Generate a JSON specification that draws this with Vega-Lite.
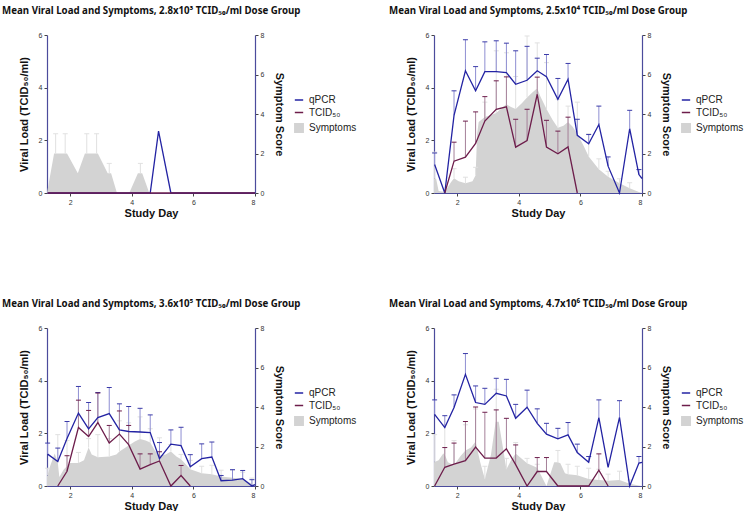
{
"$schema": "https://vega.github.io/schema/vega-lite/v6.json",
"padding": {"left": 2, "top": 6, "right": 0, "bottom": 0},
"background": "white",
"data": {"values": [
{"p":1,"s":"qPCR","d":1.27,"v":0},{"p":1,"s":"qPCR","d":4.6,"v":0},{"p":1,"s":"qPCR","d":4.87,"v":2.35},{"p":1,"s":"qPCR","d":5.27,"v":0},{"p":1,"s":"qPCR","d":8.0,"v":0},
{"p":1,"s":"TCID₅₀","d":1.27,"v":0},{"p":1,"s":"TCID₅₀","d":8.0,"v":0},
{"p":1,"s":"Symptoms","d":1.25,"v":0},{"p":1,"s":"Symptoms","d":1.48,"v":2},{"p":1,"s":"Symptoms","d":1.53,"v":2,"e":3},{"p":1,"s":"Symptoms","d":1.84,"v":2,"e":3},{"p":1,"s":"Symptoms","d":1.9,"v":2},{"p":1,"s":"Symptoms","d":2.25,"v":1},{"p":1,"s":"Symptoms","d":2.48,"v":2},{"p":1,"s":"Symptoms","d":2.54,"v":2,"e":3},{"p":1,"s":"Symptoms","d":2.86,"v":2,"e":3},{"p":1,"s":"Symptoms","d":2.9,"v":2},{"p":1,"s":"Symptoms","d":3.22,"v":1},{"p":1,"s":"Symptoms","d":3.27,"v":1,"e":1.5},{"p":1,"s":"Symptoms","d":3.33,"v":1},{"p":1,"s":"Symptoms","d":3.52,"v":0},{"p":1,"s":"Symptoms","d":3.92,"v":0},{"p":1,"s":"Symptoms","d":4.2,"v":1},{"p":1,"s":"Symptoms","d":4.28,"v":1,"e":1.5},{"p":1,"s":"Symptoms","d":4.34,"v":1},{"p":1,"s":"Symptoms","d":4.57,"v":0},{"p":1,"s":"Symptoms","d":8.0,"v":0},

{"p":2,"s":"qPCR","d":1.27,"v":1.08,"e":1.52},{"p":2,"s":"qPCR","d":1.6,"v":0},{"p":2,"s":"qPCR","d":1.9,"v":2.95,"e":3.88},{"p":2,"s":"qPCR","d":2.27,"v":4.64,"e":5.82},{"p":2,"s":"qPCR","d":2.6,"v":3.88,"e":4.8},{"p":2,"s":"qPCR","d":2.9,"v":4.61,"e":5.74},{"p":2,"s":"qPCR","d":3.27,"v":4.61,"e":5.78},{"p":2,"s":"qPCR","d":3.6,"v":4.57,"e":5.69},{"p":2,"s":"qPCR","d":3.9,"v":4.13,"e":5.4},{"p":2,"s":"qPCR","d":4.27,"v":4.28,"e":5.57},{"p":2,"s":"qPCR","d":4.6,"v":4.64,"e":5.12},{"p":2,"s":"qPCR","d":4.9,"v":4.42,"e":5.26},{"p":2,"s":"qPCR","d":5.27,"v":3.56,"e":4.35},{"p":2,"s":"qPCR","d":5.6,"v":4.32,"e":4.92},{"p":2,"s":"qPCR","d":5.9,"v":2.19,"e":2.8},{"p":2,"s":"qPCR","d":6.27,"v":1.87,"e":2.22},{"p":2,"s":"qPCR","d":6.6,"v":2.6,"e":3.3},{"p":2,"s":"qPCR","d":6.9,"v":1.02,"e":1.37},{"p":2,"s":"qPCR","d":7.27,"v":0},{"p":2,"s":"qPCR","d":7.6,"v":2.44,"e":3.14},{"p":2,"s":"qPCR","d":7.9,"v":0.7,"e":0.89},{"p":2,"s":"qPCR","d":8.0,"v":0.55},
{"p":2,"s":"TCID₅₀","d":1.6,"v":0},{"p":2,"s":"TCID₅₀","d":1.9,"v":1.21,"e":1.93},{"p":2,"s":"TCID₅₀","d":2.27,"v":1.36,"e":2.73},{"p":2,"s":"TCID₅₀","d":2.6,"v":1.88,"e":3.08},{"p":2,"s":"TCID₅₀","d":2.9,"v":2.73,"e":3.66},{"p":2,"s":"TCID₅₀","d":3.27,"v":3.18,"e":4.26},{"p":2,"s":"TCID₅₀","d":3.6,"v":3.27,"e":4.41},{"p":2,"s":"TCID₅₀","d":3.9,"v":1.74,"e":2.8},{"p":2,"s":"TCID₅₀","d":4.27,"v":1.99,"e":3.18},{"p":2,"s":"TCID₅₀","d":4.6,"v":3.75,"e":4.4},{"p":2,"s":"TCID₅₀","d":4.9,"v":1.74,"e":2.76},{"p":2,"s":"TCID₅₀","d":5.27,"v":1.49,"e":2.35},{"p":2,"s":"TCID₅₀","d":5.6,"v":1.75,"e":2.88},{"p":2,"s":"TCID₅₀","d":5.9,"v":0},
{"p":2,"s":"Symptoms","d":1.25,"v":0.72},{"p":2,"s":"Symptoms","d":1.27,"v":0.72,"e":2.07},{"p":2,"s":"Symptoms","d":1.32,"v":0.72},{"p":2,"s":"Symptoms","d":1.4,"v":0.1},{"p":2,"s":"Symptoms","d":1.6,"v":0.05},{"p":2,"s":"Symptoms","d":1.8,"v":0.55},{"p":2,"s":"Symptoms","d":1.9,"v":0.75,"e":1.23},{"p":2,"s":"Symptoms","d":2.05,"v":0.6},{"p":2,"s":"Symptoms","d":2.27,"v":0.5,"e":0.8},{"p":2,"s":"Symptoms","d":2.5,"v":0.6},{"p":2,"s":"Symptoms","d":2.6,"v":0.9,"e":1.3},{"p":2,"s":"Symptoms","d":2.65,"v":3.0},{"p":2,"s":"Symptoms","d":2.7,"v":3.6},{"p":2,"s":"Symptoms","d":2.9,"v":3.85,"e":4.6},{"p":2,"s":"Symptoms","d":3.1,"v":3.95},{"p":2,"s":"Symptoms","d":3.27,"v":4.05,"e":7.2},{"p":2,"s":"Symptoms","d":3.45,"v":4.3},{"p":2,"s":"Symptoms","d":3.6,"v":4.5,"e":7.1},{"p":2,"s":"Symptoms","d":3.75,"v":4.35},{"p":2,"s":"Symptoms","d":3.9,"v":4.25,"e":5.9},{"p":2,"s":"Symptoms","d":4.1,"v":4.55},{"p":2,"s":"Symptoms","d":4.27,"v":4.84,"e":7.95},{"p":2,"s":"Symptoms","d":4.45,"v":5.1},{"p":2,"s":"Symptoms","d":4.6,"v":5.3,"e":7.6},{"p":2,"s":"Symptoms","d":4.7,"v":4.9},{"p":2,"s":"Symptoms","d":4.9,"v":4.25,"e":6.6},{"p":2,"s":"Symptoms","d":5.1,"v":3.7},{"p":2,"s":"Symptoms","d":5.27,"v":3.3,"e":4.75},{"p":2,"s":"Symptoms","d":5.45,"v":3.4},{"p":2,"s":"Symptoms","d":5.6,"v":3.6,"e":4.4},{"p":2,"s":"Symptoms","d":5.75,"v":3.35},{"p":2,"s":"Symptoms","d":5.9,"v":3.0,"e":4.6},{"p":2,"s":"Symptoms","d":6.1,"v":2.4},{"p":2,"s":"Symptoms","d":6.27,"v":1.85,"e":3.0},{"p":2,"s":"Symptoms","d":6.45,"v":1.5},{"p":2,"s":"Symptoms","d":6.6,"v":1.2,"e":1.73},{"p":2,"s":"Symptoms","d":6.9,"v":0.82,"e":1.1},{"p":2,"s":"Symptoms","d":7.1,"v":0.65},{"p":2,"s":"Symptoms","d":7.27,"v":0.5,"e":0.72},{"p":2,"s":"Symptoms","d":7.6,"v":0.24,"e":0.52},{"p":2,"s":"Symptoms","d":7.9,"v":0.05},{"p":2,"s":"Symptoms","d":8.0,"v":0},

{"p":3,"s":"qPCR","d":1.27,"v":1.21,"e":1.63},{"p":3,"s":"qPCR","d":1.6,"v":0.93,"e":1.44},{"p":3,"s":"qPCR","d":1.9,"v":1.8,"e":2.45},{"p":3,"s":"qPCR","d":2.27,"v":2.77,"e":3.78},{"p":3,"s":"qPCR","d":2.6,"v":2.17,"e":3.17},{"p":3,"s":"qPCR","d":2.9,"v":2.6,"e":3.55},{"p":3,"s":"qPCR","d":3.27,"v":2.75,"e":3.74},{"p":3,"s":"qPCR","d":3.6,"v":2.13,"e":3.12},{"p":3,"s":"qPCR","d":3.9,"v":2.07,"e":3.02},{"p":3,"s":"qPCR","d":4.27,"v":2.05,"e":2.95},{"p":3,"s":"qPCR","d":4.6,"v":2.03,"e":2.7},{"p":3,"s":"qPCR","d":4.9,"v":1.04,"e":1.65},{"p":3,"s":"qPCR","d":5.27,"v":1.59,"e":2.13},{"p":3,"s":"qPCR","d":5.6,"v":1.53,"e":2.23},{"p":3,"s":"qPCR","d":5.9,"v":0.73,"e":1.19},{"p":3,"s":"qPCR","d":6.27,"v":1.04,"e":1.6},{"p":3,"s":"qPCR","d":6.6,"v":1.1,"e":1.67},{"p":3,"s":"qPCR","d":6.9,"v":0.2,"e":0.4},{"p":3,"s":"qPCR","d":7.27,"v":0.22,"e":0.62},{"p":3,"s":"qPCR","d":7.6,"v":0.28,"e":0.59},{"p":3,"s":"qPCR","d":7.9,"v":0,"e":0.24},{"p":3,"s":"qPCR","d":8.0,"v":0.05},
{"p":3,"s":"TCID₅₀","d":1.6,"v":0},{"p":3,"s":"TCID₅₀","d":1.9,"v":0.56,"e":1.15},{"p":3,"s":"TCID₅₀","d":2.27,"v":2.22,"e":3.26},{"p":3,"s":"TCID₅₀","d":2.6,"v":1.88,"e":2.87},{"p":3,"s":"TCID₅₀","d":2.9,"v":2.41,"e":3.53},{"p":3,"s":"TCID₅₀","d":3.27,"v":1.63,"e":2.3},{"p":3,"s":"TCID₅₀","d":3.6,"v":1.97,"e":2.85},{"p":3,"s":"TCID₅₀","d":3.9,"v":1.57,"e":2.3},{"p":3,"s":"TCID₅₀","d":4.27,"v":0.64,"e":1.22},{"p":3,"s":"TCID₅₀","d":4.6,"v":0.81,"e":1.22},{"p":3,"s":"TCID₅₀","d":4.9,"v":0.95,"e":1.3},{"p":3,"s":"TCID₅₀","d":5.27,"v":0},{"p":3,"s":"TCID₅₀","d":5.6,"v":0.4,"e":0.78},{"p":3,"s":"TCID₅₀","d":5.9,"v":0},
{"p":3,"s":"Symptoms","d":1.25,"v":0.5},{"p":3,"s":"Symptoms","d":1.27,"v":0.55,"e":0.9},{"p":3,"s":"Symptoms","d":1.35,"v":1.0},{"p":3,"s":"Symptoms","d":1.5,"v":1.65},{"p":3,"s":"Symptoms","d":1.6,"v":1.2,"e":2.6},{"p":3,"s":"Symptoms","d":1.65,"v":0.45},{"p":3,"s":"Symptoms","d":1.8,"v":0.85},{"p":3,"s":"Symptoms","d":1.9,"v":1.0,"e":2.3},{"p":3,"s":"Symptoms","d":2.0,"v":1.16},{"p":3,"s":"Symptoms","d":2.27,"v":1.16,"e":1.7},{"p":3,"s":"Symptoms","d":2.45,"v":1.3},{"p":3,"s":"Symptoms","d":2.6,"v":1.95,"e":2.4},{"p":3,"s":"Symptoms","d":2.7,"v":1.6},{"p":3,"s":"Symptoms","d":2.9,"v":1.45,"e":2.6},{"p":3,"s":"Symptoms","d":3.27,"v":1.5,"e":2.4},{"p":3,"s":"Symptoms","d":3.5,"v":1.6},{"p":3,"s":"Symptoms","d":3.6,"v":1.75,"e":3.3},{"p":3,"s":"Symptoms","d":3.75,"v":1.9},{"p":3,"s":"Symptoms","d":3.9,"v":2.05,"e":3.2},{"p":3,"s":"Symptoms","d":4.1,"v":2.25},{"p":3,"s":"Symptoms","d":4.27,"v":2.38,"e":3.5},{"p":3,"s":"Symptoms","d":4.45,"v":2.3},{"p":3,"s":"Symptoms","d":4.6,"v":2.2,"e":2.9},{"p":3,"s":"Symptoms","d":4.75,"v":1.8},{"p":3,"s":"Symptoms","d":4.9,"v":1.55,"e":2.44},{"p":3,"s":"Symptoms","d":5.1,"v":1.6},{"p":3,"s":"Symptoms","d":5.27,"v":1.75,"e":2.1},{"p":3,"s":"Symptoms","d":5.45,"v":1.5},{"p":3,"s":"Symptoms","d":5.6,"v":1.35,"e":1.6},{"p":3,"s":"Symptoms","d":5.9,"v":0.85,"e":1.3},{"p":3,"s":"Symptoms","d":6.27,"v":0.65,"e":1.0},{"p":3,"s":"Symptoms","d":6.6,"v":0.6,"e":1.05},{"p":3,"s":"Symptoms","d":6.9,"v":0.48,"e":0.8},{"p":3,"s":"Symptoms","d":7.27,"v":0.42,"e":0.8},{"p":3,"s":"Symptoms","d":7.6,"v":0.36,"e":0.7},{"p":3,"s":"Symptoms","d":7.9,"v":0.12,"e":0.4},{"p":3,"s":"Symptoms","d":8.0,"v":0.05},

{"p":4,"s":"qPCR","d":1.27,"v":2.72,"e":3.27},{"p":4,"s":"qPCR","d":1.6,"v":2.22,"e":2.67},{"p":4,"s":"qPCR","d":1.9,"v":2.98,"e":3.46},{"p":4,"s":"qPCR","d":2.27,"v":4.24,"e":5.03},{"p":4,"s":"qPCR","d":2.6,"v":3.17,"e":3.8},{"p":4,"s":"qPCR","d":2.9,"v":3.1,"e":3.71},{"p":4,"s":"qPCR","d":3.27,"v":3.52,"e":4.09},{"p":4,"s":"qPCR","d":3.6,"v":3.42,"e":4.05},{"p":4,"s":"qPCR","d":3.9,"v":2.57,"e":3.1},{"p":4,"s":"qPCR","d":4.27,"v":2.99,"e":3.64},{"p":4,"s":"qPCR","d":4.6,"v":2.38,"e":2.93},{"p":4,"s":"qPCR","d":4.9,"v":1.97,"e":2.38},{"p":4,"s":"qPCR","d":5.27,"v":1.79,"e":2.19},{"p":4,"s":"qPCR","d":5.6,"v":1.94,"e":2.41},{"p":4,"s":"qPCR","d":5.9,"v":1.27,"e":1.59},{"p":4,"s":"qPCR","d":6.27,"v":0.9,"e":1.12},{"p":4,"s":"qPCR","d":6.6,"v":2.6,"e":3.27},{"p":4,"s":"qPCR","d":6.9,"v":0.71},{"p":4,"s":"qPCR","d":7.27,"v":2.61,"e":3.24},{"p":4,"s":"qPCR","d":7.6,"v":0},{"p":4,"s":"qPCR","d":7.9,"v":0.87,"e":1.12},{"p":4,"s":"qPCR","d":8.0,"v":0.9},
{"p":4,"s":"TCID₅₀","d":1.27,"v":0},{"p":4,"s":"TCID₅₀","d":1.6,"v":0.71,"e":1.46},{"p":4,"s":"TCID₅₀","d":1.9,"v":0.83,"e":1.63},{"p":4,"s":"TCID₅₀","d":2.27,"v":0.96,"e":2.45},{"p":4,"s":"TCID₅₀","d":2.6,"v":1.48,"e":3.0},{"p":4,"s":"TCID₅₀","d":2.9,"v":1.06,"e":2.8},{"p":4,"s":"TCID₅₀","d":3.27,"v":1.06,"e":2.89},{"p":4,"s":"TCID₅₀","d":3.6,"v":1.41,"e":2.57},{"p":4,"s":"TCID₅₀","d":3.9,"v":0.81,"e":1.56},{"p":4,"s":"TCID₅₀","d":4.27,"v":0},{"p":4,"s":"TCID₅₀","d":4.6,"v":0.55,"e":1.08},{"p":4,"s":"TCID₅₀","d":4.9,"v":0.55,"e":1.08},{"p":4,"s":"TCID₅₀","d":5.27,"v":0},{"p":4,"s":"TCID₅₀","d":5.6,"v":0},{"p":4,"s":"TCID₅₀","d":5.9,"v":0},{"p":4,"s":"TCID₅₀","d":6.27,"v":0},{"p":4,"s":"TCID₅₀","d":6.6,"v":0.6,"e":1.22},{"p":4,"s":"TCID₅₀","d":6.9,"v":0},
{"p":4,"s":"Symptoms","d":1.25,"v":1.2},{"p":4,"s":"Symptoms","d":1.27,"v":1.22,"e":2.6},{"p":4,"s":"Symptoms","d":1.4,"v":1.3},{"p":4,"s":"Symptoms","d":1.55,"v":1.65},{"p":4,"s":"Symptoms","d":1.6,"v":1.6,"e":3.1},{"p":4,"s":"Symptoms","d":1.7,"v":1.2},{"p":4,"s":"Symptoms","d":1.9,"v":1.05,"e":2.3},{"p":4,"s":"Symptoms","d":2.1,"v":1.5},{"p":4,"s":"Symptoms","d":2.27,"v":1.8,"e":3.1},{"p":4,"s":"Symptoms","d":2.45,"v":1.95},{"p":4,"s":"Symptoms","d":2.6,"v":2.25,"e":3.9},{"p":4,"s":"Symptoms","d":2.75,"v":1.2},{"p":4,"s":"Symptoms","d":2.9,"v":0.35,"e":1.0},{"p":4,"s":"Symptoms","d":3.1,"v":1.6},{"p":4,"s":"Symptoms","d":3.25,"v":3.25},{"p":4,"s":"Symptoms","d":3.27,"v":3.25,"e":4.9},{"p":4,"s":"Symptoms","d":3.35,"v":3.25},{"p":4,"s":"Symptoms","d":3.6,"v":0.85,"e":1.4},{"p":4,"s":"Symptoms","d":3.75,"v":1.3},{"p":4,"s":"Symptoms","d":3.9,"v":1.65,"e":2.2},{"p":4,"s":"Symptoms","d":4.27,"v":1.15,"e":1.4},{"p":4,"s":"Symptoms","d":4.6,"v":0.92,"e":1.1},{"p":4,"s":"Symptoms","d":4.9,"v":0},{"p":4,"s":"Symptoms","d":5.15,"v":1.2},{"p":4,"s":"Symptoms","d":5.27,"v":1.2,"e":1.8},{"p":4,"s":"Symptoms","d":5.35,"v":1.15},{"p":4,"s":"Symptoms","d":5.5,"v":0.65},{"p":4,"s":"Symptoms","d":5.6,"v":0.6,"e":1.1},{"p":4,"s":"Symptoms","d":5.9,"v":0.55,"e":1.0},{"p":4,"s":"Symptoms","d":6.27,"v":0.35,"e":0.9},{"p":4,"s":"Symptoms","d":6.6,"v":0.3,"e":0.85},{"p":4,"s":"Symptoms","d":6.9,"v":0.27,"e":0.6},{"p":4,"s":"Symptoms","d":7.27,"v":0.3,"e":0.75},{"p":4,"s":"Symptoms","d":7.6,"v":0.12,"e":0.3},{"p":4,"s":"Symptoms","d":7.9,"v":0.03},{"p":4,"s":"Symptoms","d":8.0,"v":0}
]},
"columns": 2,
"spacing": {"row": 81, "column": 32},
"resolve": {"scale": {"color": "independent"}},
"concat": [
{
 "width": 208, "height": 158,
 "title": "Mean Viral Load and Symptoms, 2.8x10³ TCID₅₀/ml Dose Group",
 "transform": [{"filter": "datum.p == 1"}],
 "encoding": {"x": {"field": "d", "type": "quantitative", "scale": {"domain": [1.25, 8], "nice": false, "zero": false}, "axis": {"values": [2,4,6,8], "title": "Study Day", "titlePadding": 2}}},
 "layer": [
  {"transform": [{"filter": "datum.s == 'Symptoms'"}],
   "layer": [
    {"mark": {"type": "area", "opacity": 1}, "encoding": {
      "y": {"field": "v", "type": "quantitative", "scale": {"domain": [0, 8], "nice": false}, "axis": {"orient": "right", "values": [0,2,4,6,8], "title": "Symptom Score", "titlePadding": 10}},
      "color": {"field": "s", "type": "nominal", "scale": {"domain": ["qPCR","TCID₅₀","Symptoms"], "range": ["#2323a3","#6d1d4b","#d3d3d3"]}, "legend": {"orient": "none", "legendX": 247, "legendY": 60, "title": null, "labelFontSize": 10, "labelColor": "#222", "symbolSize": 70, "symbolStrokeWidth": 1.5, "rowPadding": 2.5, "labelOffset": 5, "encode": {"symbols": {"update": {"shape": {"signal": "datum.value === 'Symptoms' ? 'square' : 'stroke'"}, "fill": {"signal": "datum.value === 'Symptoms' ? '#d3d3d3' : 'transparent'"}, "stroke": {"signal": "datum.value === 'Symptoms' ? 'transparent' : (datum.value === 'qPCR' ? '#2323a3' : '#6d1d4b')"}}}}}}}},
    {"transform": [{"filter": "isValid(datum.e)"}], "mark": {"type": "rule", "color": "#e0e0e0", "strokeWidth": 1}, "encoding": {
      "y": {"field": "v", "type": "quantitative", "scale": {"domain": [0, 8], "nice": false}, "axis": {"orient": "right", "values": [0,2,4,6,8], "title": "Symptom Score", "titlePadding": 10}},
      "y2": {"field": "e"}}},
    {"transform": [{"filter": "isValid(datum.e)"}], "mark": {"type": "tick", "orient": "horizontal", "color": "#e0e0e0", "size": 5, "thickness": 1, "opacity": 1}, "encoding": {
      "y": {"field": "e", "type": "quantitative", "scale": {"domain": [0, 8], "nice": false}, "axis": {"orient": "right", "values": [0,2,4,6,8], "title": "Symptom Score", "titlePadding": 10}}}}
   ]},
  {"transform": [{"filter": "datum.s != 'Symptoms'"}],
   "layer": [
    {"transform": [{"filter": "isValid(datum.e)"}], "mark": {"type": "rule", "strokeWidth": 1}, "encoding": {
      "y": {"field": "v", "type": "quantitative", "scale": {"domain": [0, 6], "nice": false}, "axis": {"orient": "left", "values": [0,2,4,6], "title": "Viral Load (TCID₅₀/ml)", "titlePadding": 9}},
      "y2": {"field": "e"},
      "stroke": {"condition": {"test": "datum.s == 'qPCR'", "value": "#8e8ed2"}, "value": "#a58099"}}},
    {"transform": [{"filter": "isValid(datum.e)"}], "mark": {"type": "tick", "orient": "horizontal", "size": 5, "thickness": 1, "opacity": 1}, "encoding": {
      "y": {"field": "e", "type": "quantitative", "scale": {"domain": [0, 6], "nice": false}, "axis": {"orient": "left", "values": [0,2,4,6], "title": "Viral Load (TCID₅₀/ml)", "titlePadding": 9}},
      "fill": {"condition": {"test": "datum.s == 'qPCR'", "value": "#3a3aa8"}, "value": "#6d1d4b"}}},
    {"mark": {"type": "line", "strokeWidth": 1.3}, "encoding": {
      "y": {"field": "v", "type": "quantitative", "scale": {"domain": [0, 6], "nice": false}, "axis": {"orient": "left", "values": [0,2,4,6], "title": "Viral Load (TCID₅₀/ml)", "titlePadding": 9}},
      "color": {"field": "s", "type": "nominal", "scale": {"domain": ["qPCR","TCID₅₀","Symptoms"], "range": ["#2323a3","#6d1d4b","#d3d3d3"]}, "legend": {"orient": "none", "legendX": 247, "legendY": 60, "title": null, "labelFontSize": 10, "labelColor": "#222", "symbolSize": 70, "symbolStrokeWidth": 1.5, "rowPadding": 2.5, "labelOffset": 5, "encode": {"symbols": {"update": {"shape": {"signal": "datum.value === 'Symptoms' ? 'square' : 'stroke'"}, "fill": {"signal": "datum.value === 'Symptoms' ? '#d3d3d3' : 'transparent'"}, "stroke": {"signal": "datum.value === 'Symptoms' ? 'transparent' : (datum.value === 'qPCR' ? '#2323a3' : '#6d1d4b')"}}}}}}}}
   ]}
 ],
 "resolve": {"scale": {"y": "independent"}}
},
{
 "width": 208, "height": 158,
 "title": "Mean Viral Load and Symptoms, 2.5x10⁴ TCID₅₀/ml Dose Group",
 "transform": [{"filter": "datum.p == 2"}],
 "encoding": {"x": {"field": "d", "type": "quantitative", "scale": {"domain": [1.25, 8], "nice": false, "zero": false}, "axis": {"values": [2,4,6,8], "title": "Study Day", "titlePadding": 2}}},
 "layer": [
  {"transform": [{"filter": "datum.s == 'Symptoms'"}],
   "layer": [
    {"mark": {"type": "area", "opacity": 1}, "encoding": {
      "y": {"field": "v", "type": "quantitative", "scale": {"domain": [0, 8], "nice": false}, "axis": {"orient": "right", "values": [0,2,4,6,8], "title": "Symptom Score", "titlePadding": 10}},
      "color": {"field": "s", "type": "nominal", "scale": {"domain": ["qPCR","TCID₅₀","Symptoms"], "range": ["#2323a3","#6d1d4b","#d3d3d3"]}, "legend": {"orient": "none", "legendX": 247, "legendY": 60, "title": null, "labelFontSize": 10, "labelColor": "#222", "symbolSize": 70, "symbolStrokeWidth": 1.5, "rowPadding": 2.5, "labelOffset": 5, "encode": {"symbols": {"update": {"shape": {"signal": "datum.value === 'Symptoms' ? 'square' : 'stroke'"}, "fill": {"signal": "datum.value === 'Symptoms' ? '#d3d3d3' : 'transparent'"}, "stroke": {"signal": "datum.value === 'Symptoms' ? 'transparent' : (datum.value === 'qPCR' ? '#2323a3' : '#6d1d4b')"}}}}}}}},
    {"transform": [{"filter": "isValid(datum.e)"}], "mark": {"type": "rule", "color": "#e0e0e0", "strokeWidth": 1}, "encoding": {
      "y": {"field": "v", "type": "quantitative", "scale": {"domain": [0, 8], "nice": false}, "axis": {"orient": "right", "values": [0,2,4,6,8], "title": "Symptom Score", "titlePadding": 10}},
      "y2": {"field": "e"}}},
    {"transform": [{"filter": "isValid(datum.e)"}], "mark": {"type": "tick", "orient": "horizontal", "color": "#e0e0e0", "size": 5, "thickness": 1, "opacity": 1}, "encoding": {
      "y": {"field": "e", "type": "quantitative", "scale": {"domain": [0, 8], "nice": false}, "axis": {"orient": "right", "values": [0,2,4,6,8], "title": "Symptom Score", "titlePadding": 10}}}}
   ]},
  {"transform": [{"filter": "datum.s != 'Symptoms'"}],
   "layer": [
    {"transform": [{"filter": "isValid(datum.e)"}], "mark": {"type": "rule", "strokeWidth": 1}, "encoding": {
      "y": {"field": "v", "type": "quantitative", "scale": {"domain": [0, 6], "nice": false}, "axis": {"orient": "left", "values": [0,2,4,6], "title": "Viral Load (TCID₅₀/ml)", "titlePadding": 9}},
      "y2": {"field": "e"},
      "stroke": {"condition": {"test": "datum.s == 'qPCR'", "value": "#8e8ed2"}, "value": "#a58099"}}},
    {"transform": [{"filter": "isValid(datum.e)"}], "mark": {"type": "tick", "orient": "horizontal", "size": 5, "thickness": 1, "opacity": 1}, "encoding": {
      "y": {"field": "e", "type": "quantitative", "scale": {"domain": [0, 6], "nice": false}, "axis": {"orient": "left", "values": [0,2,4,6], "title": "Viral Load (TCID₅₀/ml)", "titlePadding": 9}},
      "fill": {"condition": {"test": "datum.s == 'qPCR'", "value": "#3a3aa8"}, "value": "#6d1d4b"}}},
    {"mark": {"type": "line", "strokeWidth": 1.3}, "encoding": {
      "y": {"field": "v", "type": "quantitative", "scale": {"domain": [0, 6], "nice": false}, "axis": {"orient": "left", "values": [0,2,4,6], "title": "Viral Load (TCID₅₀/ml)", "titlePadding": 9}},
      "color": {"field": "s", "type": "nominal", "scale": {"domain": ["qPCR","TCID₅₀","Symptoms"], "range": ["#2323a3","#6d1d4b","#d3d3d3"]}, "legend": {"orient": "none", "legendX": 247, "legendY": 60, "title": null, "labelFontSize": 10, "labelColor": "#222", "symbolSize": 70, "symbolStrokeWidth": 1.5, "rowPadding": 2.5, "labelOffset": 5, "encode": {"symbols": {"update": {"shape": {"signal": "datum.value === 'Symptoms' ? 'square' : 'stroke'"}, "fill": {"signal": "datum.value === 'Symptoms' ? '#d3d3d3' : 'transparent'"}, "stroke": {"signal": "datum.value === 'Symptoms' ? 'transparent' : (datum.value === 'qPCR' ? '#2323a3' : '#6d1d4b')"}}}}}}}}
   ]}
 ],
 "resolve": {"scale": {"y": "independent"}}
},
{
 "width": 208, "height": 158,
 "title": "Mean Viral Load and Symptoms, 3.6x10⁵ TCID₅₀/ml Dose Group",
 "transform": [{"filter": "datum.p == 3"}],
 "encoding": {"x": {"field": "d", "type": "quantitative", "scale": {"domain": [1.25, 8], "nice": false, "zero": false}, "axis": {"values": [2,4,6,8], "title": "Study Day", "titlePadding": 2}}},
 "layer": [
  {"transform": [{"filter": "datum.s == 'Symptoms'"}],
   "layer": [
    {"mark": {"type": "area", "opacity": 1}, "encoding": {
      "y": {"field": "v", "type": "quantitative", "scale": {"domain": [0, 8], "nice": false}, "axis": {"orient": "right", "values": [0,2,4,6,8], "title": "Symptom Score", "titlePadding": 10}},
      "color": {"field": "s", "type": "nominal", "scale": {"domain": ["qPCR","TCID₅₀","Symptoms"], "range": ["#2323a3","#6d1d4b","#d3d3d3"]}, "legend": {"orient": "none", "legendX": 247, "legendY": 60, "title": null, "labelFontSize": 10, "labelColor": "#222", "symbolSize": 70, "symbolStrokeWidth": 1.5, "rowPadding": 2.5, "labelOffset": 5, "encode": {"symbols": {"update": {"shape": {"signal": "datum.value === 'Symptoms' ? 'square' : 'stroke'"}, "fill": {"signal": "datum.value === 'Symptoms' ? '#d3d3d3' : 'transparent'"}, "stroke": {"signal": "datum.value === 'Symptoms' ? 'transparent' : (datum.value === 'qPCR' ? '#2323a3' : '#6d1d4b')"}}}}}}}},
    {"transform": [{"filter": "isValid(datum.e)"}], "mark": {"type": "rule", "color": "#e0e0e0", "strokeWidth": 1}, "encoding": {
      "y": {"field": "v", "type": "quantitative", "scale": {"domain": [0, 8], "nice": false}, "axis": {"orient": "right", "values": [0,2,4,6,8], "title": "Symptom Score", "titlePadding": 10}},
      "y2": {"field": "e"}}},
    {"transform": [{"filter": "isValid(datum.e)"}], "mark": {"type": "tick", "orient": "horizontal", "color": "#e0e0e0", "size": 5, "thickness": 1, "opacity": 1}, "encoding": {
      "y": {"field": "e", "type": "quantitative", "scale": {"domain": [0, 8], "nice": false}, "axis": {"orient": "right", "values": [0,2,4,6,8], "title": "Symptom Score", "titlePadding": 10}}}}
   ]},
  {"transform": [{"filter": "datum.s != 'Symptoms'"}],
   "layer": [
    {"transform": [{"filter": "isValid(datum.e)"}], "mark": {"type": "rule", "strokeWidth": 1}, "encoding": {
      "y": {"field": "v", "type": "quantitative", "scale": {"domain": [0, 6], "nice": false}, "axis": {"orient": "left", "values": [0,2,4,6], "title": "Viral Load (TCID₅₀/ml)", "titlePadding": 9}},
      "y2": {"field": "e"},
      "stroke": {"condition": {"test": "datum.s == 'qPCR'", "value": "#8e8ed2"}, "value": "#a58099"}}},
    {"transform": [{"filter": "isValid(datum.e)"}], "mark": {"type": "tick", "orient": "horizontal", "size": 5, "thickness": 1, "opacity": 1}, "encoding": {
      "y": {"field": "e", "type": "quantitative", "scale": {"domain": [0, 6], "nice": false}, "axis": {"orient": "left", "values": [0,2,4,6], "title": "Viral Load (TCID₅₀/ml)", "titlePadding": 9}},
      "fill": {"condition": {"test": "datum.s == 'qPCR'", "value": "#3a3aa8"}, "value": "#6d1d4b"}}},
    {"mark": {"type": "line", "strokeWidth": 1.3}, "encoding": {
      "y": {"field": "v", "type": "quantitative", "scale": {"domain": [0, 6], "nice": false}, "axis": {"orient": "left", "values": [0,2,4,6], "title": "Viral Load (TCID₅₀/ml)", "titlePadding": 9}},
      "color": {"field": "s", "type": "nominal", "scale": {"domain": ["qPCR","TCID₅₀","Symptoms"], "range": ["#2323a3","#6d1d4b","#d3d3d3"]}, "legend": {"orient": "none", "legendX": 247, "legendY": 60, "title": null, "labelFontSize": 10, "labelColor": "#222", "symbolSize": 70, "symbolStrokeWidth": 1.5, "rowPadding": 2.5, "labelOffset": 5, "encode": {"symbols": {"update": {"shape": {"signal": "datum.value === 'Symptoms' ? 'square' : 'stroke'"}, "fill": {"signal": "datum.value === 'Symptoms' ? '#d3d3d3' : 'transparent'"}, "stroke": {"signal": "datum.value === 'Symptoms' ? 'transparent' : (datum.value === 'qPCR' ? '#2323a3' : '#6d1d4b')"}}}}}}}}
   ]}
 ],
 "resolve": {"scale": {"y": "independent"}}
},
{
 "width": 208, "height": 158,
 "title": "Mean Viral Load and Symptoms, 4.7x10⁶ TCID₅₀/ml Dose Group",
 "transform": [{"filter": "datum.p == 4"}],
 "encoding": {"x": {"field": "d", "type": "quantitative", "scale": {"domain": [1.25, 8], "nice": false, "zero": false}, "axis": {"values": [2,4,6,8], "title": "Study Day", "titlePadding": 2}}},
 "layer": [
  {"transform": [{"filter": "datum.s == 'Symptoms'"}],
   "layer": [
    {"mark": {"type": "area", "opacity": 1}, "encoding": {
      "y": {"field": "v", "type": "quantitative", "scale": {"domain": [0, 8], "nice": false}, "axis": {"orient": "right", "values": [0,2,4,6,8], "title": "Symptom Score", "titlePadding": 10}},
      "color": {"field": "s", "type": "nominal", "scale": {"domain": ["qPCR","TCID₅₀","Symptoms"], "range": ["#2323a3","#6d1d4b","#d3d3d3"]}, "legend": {"orient": "none", "legendX": 247, "legendY": 60, "title": null, "labelFontSize": 10, "labelColor": "#222", "symbolSize": 70, "symbolStrokeWidth": 1.5, "rowPadding": 2.5, "labelOffset": 5, "encode": {"symbols": {"update": {"shape": {"signal": "datum.value === 'Symptoms' ? 'square' : 'stroke'"}, "fill": {"signal": "datum.value === 'Symptoms' ? '#d3d3d3' : 'transparent'"}, "stroke": {"signal": "datum.value === 'Symptoms' ? 'transparent' : (datum.value === 'qPCR' ? '#2323a3' : '#6d1d4b')"}}}}}}}},
    {"transform": [{"filter": "isValid(datum.e)"}], "mark": {"type": "rule", "color": "#e0e0e0", "strokeWidth": 1}, "encoding": {
      "y": {"field": "v", "type": "quantitative", "scale": {"domain": [0, 8], "nice": false}, "axis": {"orient": "right", "values": [0,2,4,6,8], "title": "Symptom Score", "titlePadding": 10}},
      "y2": {"field": "e"}}},
    {"transform": [{"filter": "isValid(datum.e)"}], "mark": {"type": "tick", "orient": "horizontal", "color": "#e0e0e0", "size": 5, "thickness": 1, "opacity": 1}, "encoding": {
      "y": {"field": "e", "type": "quantitative", "scale": {"domain": [0, 8], "nice": false}, "axis": {"orient": "right", "values": [0,2,4,6,8], "title": "Symptom Score", "titlePadding": 10}}}}
   ]},
  {"transform": [{"filter": "datum.s != 'Symptoms'"}],
   "layer": [
    {"transform": [{"filter": "isValid(datum.e)"}], "mark": {"type": "rule", "strokeWidth": 1}, "encoding": {
      "y": {"field": "v", "type": "quantitative", "scale": {"domain": [0, 6], "nice": false}, "axis": {"orient": "left", "values": [0,2,4,6], "title": "Viral Load (TCID₅₀/ml)", "titlePadding": 9}},
      "y2": {"field": "e"},
      "stroke": {"condition": {"test": "datum.s == 'qPCR'", "value": "#8e8ed2"}, "value": "#a58099"}}},
    {"transform": [{"filter": "isValid(datum.e)"}], "mark": {"type": "tick", "orient": "horizontal", "size": 5, "thickness": 1, "opacity": 1}, "encoding": {
      "y": {"field": "e", "type": "quantitative", "scale": {"domain": [0, 6], "nice": false}, "axis": {"orient": "left", "values": [0,2,4,6], "title": "Viral Load (TCID₅₀/ml)", "titlePadding": 9}},
      "fill": {"condition": {"test": "datum.s == 'qPCR'", "value": "#3a3aa8"}, "value": "#6d1d4b"}}},
    {"mark": {"type": "line", "strokeWidth": 1.3}, "encoding": {
      "y": {"field": "v", "type": "quantitative", "scale": {"domain": [0, 6], "nice": false}, "axis": {"orient": "left", "values": [0,2,4,6], "title": "Viral Load (TCID₅₀/ml)", "titlePadding": 9}},
      "color": {"field": "s", "type": "nominal", "scale": {"domain": ["qPCR","TCID₅₀","Symptoms"], "range": ["#2323a3","#6d1d4b","#d3d3d3"]}, "legend": {"orient": "none", "legendX": 247, "legendY": 60, "title": null, "labelFontSize": 10, "labelColor": "#222", "symbolSize": 70, "symbolStrokeWidth": 1.5, "rowPadding": 2.5, "labelOffset": 5, "encode": {"symbols": {"update": {"shape": {"signal": "datum.value === 'Symptoms' ? 'square' : 'stroke'"}, "fill": {"signal": "datum.value === 'Symptoms' ? '#d3d3d3' : 'transparent'"}, "stroke": {"signal": "datum.value === 'Symptoms' ? 'transparent' : (datum.value === 'qPCR' ? '#2323a3' : '#6d1d4b')"}}}}}}}}
   ]}
 ],
 "resolve": {"scale": {"y": "independent"}}
}
],
"config": {
 "font": "Liberation Sans",
 "view": {"stroke": null},
 "title": {"font": "Noto Sans", "fontSize": 9.7, "fontWeight": "bold", "anchor": "start", "dx": -16, "offset": 15, "color": "#111"},
 "axis": {"domainColor": "#4b4b9c", "domainWidth": 1.2, "tickColor": "#444", "tickSize": 3, "labelFontSize": 7, "labelColor": "#333", "labelPadding": 2, "titleFontSize": 11, "titleFontWeight": "bold", "titleColor": "#111", "grid": false}
}
}
